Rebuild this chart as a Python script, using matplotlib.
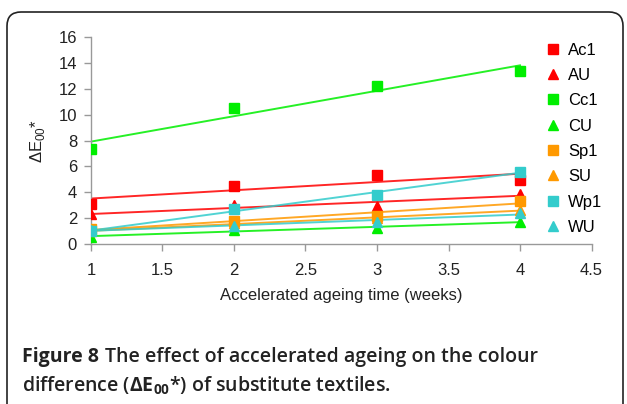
import numpy as np
import matplotlib.pyplot as plt
from matplotlib.patches import FancyBboxPatch

# accelerated ageing time (weeks)
weeks = [1, 2, 3, 4]

# colour difference dE00* per substitute textile
ac1 = [3.1, 4.5, 5.35, 4.95]
au = [2.3, 3.0, 2.9, 3.9]
cc1 = [7.35, 10.55, 12.2, 13.35]
cu = [0.55, 1.1, 1.25, 1.7]
sp1 = [1.15, 1.8, 2.2, 3.3]
su = [1.0, 1.6, 2.0, 2.6]
wp1 = [1.0, 2.7, 3.8, 5.6]
wu = [1.1, 1.4, 1.7, 2.4]

names = ['Ac1', 'AU', 'Cc1', 'CU', 'Sp1', 'SU', 'Wp1', 'WU']
series = [ac1, au, cc1, cu, sp1, su, wp1, wu]
colors = ['#ff0000', '#ff0000', '#00ee00', '#00ee00',
          '#ff9900', '#ff9900', '#33cccc', '#33cccc']
markers = ['s', '^', 's', '^', 's', '^', 's', '^']

plt.rcParams['font.family'] = ['Liberation Sans', 'DejaVu Sans']
plt.rcParams['mathtext.fontset'] = 'custom'
plt.rcParams['mathtext.rm'] = 'Liberation Sans'
plt.rcParams['mathtext.bf'] = 'Open Sans:bold'

fig = plt.figure(figsize=(6.27, 4.04), dpi=100)
ax = fig.add_axes([0.1451, 0.396, 0.7983, 0.5124])

x = np.array(weeks, dtype=float)
for name, ys, c, m in zip(names, series, colors, markers):
    ys = np.array(ys)
    # linear trend line like the spreadsheet original
    k, b = np.polyfit(x, ys, 1)
    ax.plot(x, k * x + b, color=c, lw=1.4, alpha=0.85, zorder=2)
    ax.plot(x, ys, ls='none', marker=m, ms=7, color=c, mec=c,
            label=name, zorder=3)

ax.set_xlim(1, 4.5)
ax.set_ylim(0, 16)
ax.set_xticks([1, 1.5, 2, 2.5, 3, 3.5, 4, 4.5])
ax.set_xticklabels(['1', '1.5', '2', '2.5', '3', '3.5', '4', '4.5'])
ax.set_yticks(range(0, 17, 2))

for s in ['top', 'right']:
    ax.spines[s].set_visible(False)
for s in ['left', 'bottom']:
    ax.spines[s].set_color('#999999')
    ax.spines[s].set_linewidth(1.0)
ax.tick_params(axis='both', colors='#999999', labelcolor='#222222',
               labelsize=12, length=5, width=1.0)
ax.tick_params(axis='x', pad=9)
ax.tick_params(axis='y', pad=5)

ax.set_xlabel('Accelerated ageing time (weeks)', fontsize=12,
              color='#222222', labelpad=7)
ax.set_ylabel(r'$\Delta\mathrm{E}_{00}$*', fontsize=12, color='#222222',
              labelpad=8)

ax.legend(loc='upper left', bbox_to_anchor=(0.897, 1.005), frameon=False,
          fontsize=12, handlelength=0.8, handletextpad=0.5,
          labelspacing=0.62, borderaxespad=0.0, markerscale=0.95)

# rounded frame round the figure, open at the bottom (display pixels)
box = FancyBboxPatch((7, -30), 616, 422, boxstyle='round,pad=0,rounding_size=14',
                     fill=False, ec='#222222', lw=1.2, clip_on=False)
box.set_transform(None)
fig.patches.append(box)

cap_font = ['Open Sans', 'DejaVu Sans']
fs_cap = 14
t1 = fig.text(22 / 627, 1 - 357 / 404, 'Figure 8', fontsize=fs_cap,
              weight='bold', family=cap_font, color='#222222', va='center')
fig.canvas.draw()
bb = t1.get_window_extent()
fig.text((bb.x1 + 6) / 627, 1 - 357 / 404,
         'The effect of accelerated ageing on the colour',
         fontsize=fs_cap, weight='semibold', family=cap_font, color='#222222',
         va='center')
fig.text(22 / 627, 1 - 386 / 404,
         r'difference ($\mathbf{\Delta E_{00}}$*) of substitute textiles.',
         fontsize=fs_cap, weight='semibold', family=cap_font, color='#222222',
         va='center')

fig.savefig('out.png', dpi=100)
